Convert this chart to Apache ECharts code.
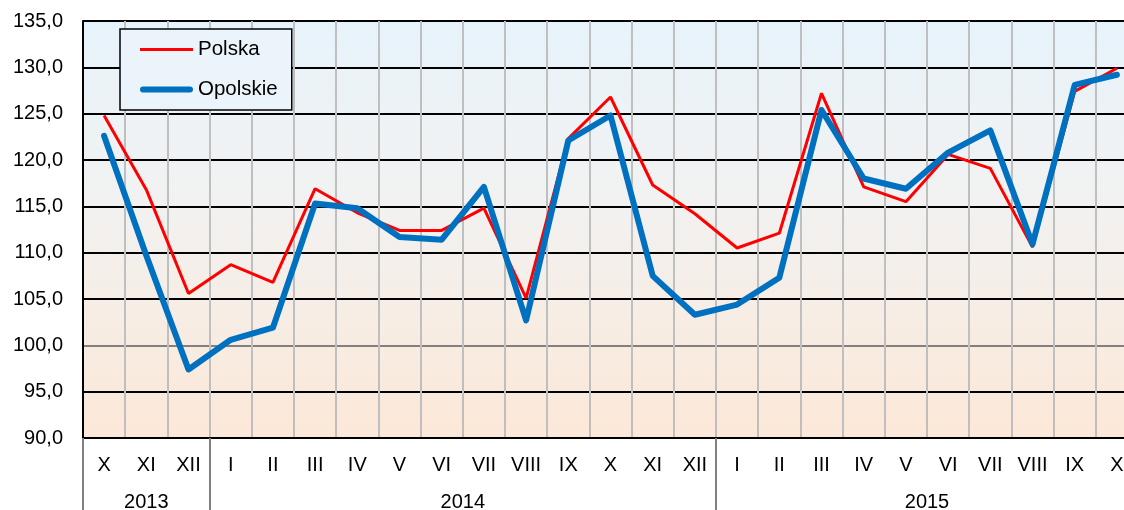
<!DOCTYPE html>
<html>
<head>
<meta charset="utf-8">
<script src="https://cdn.jsdelivr.net/npm/echarts@6/dist/echarts.min.js"></script>
<style>html,body{margin:0;padding:0;background:#fff}#c{width:1124px;height:510px}</style>
</head>
<body>
<div id="c"></div>
<script>
var months = ['X','XI','XII','I','II','III','IV','V','VI','VII','VIII','IX','X','XI','XII','I','II','III','IV','V','VI','VII','VIII','IX','X'];
var years = ['2013','2014','2015'];
var yearMonthCounts = [3, 12, 10];
var polska = [124.8,116.8,105.6,108.7,106.8,116.9,114.3,112.4,112.4,114.8,105.1,122.3,126.8,117.3,114.2,110.5,112.1,127.2,117.1,115.5,120.6,119.1,110.6,127.4,129.9];
var opolskie = [122.6,109.7,97.4,100.6,101.9,115.3,114.8,111.7,111.4,117.1,102.7,122.1,124.8,107.5,103.3,104.4,107.3,125.4,118.0,116.9,120.8,123.2,110.9,128.1,129.2];

var yearStarts = [], yearCenters = [], acc = 0;
yearMonthCounts.forEach(function (n) { yearStarts.push(acc); yearCenters.push(acc + n / 2); acc += n; });

var F = 'Liberation Sans, Arial, sans-serif';
var chart = echarts.init(document.getElementById('c'), null, {renderer: 'canvas'});
chart.setOption({
  animation: false,
  grid: {
    left: 83, top: 21, width: 1055, height: 417,
    containLabel: false, outerBoundsMode: 'none',
    show: true, borderWidth: 0,
    backgroundColor: {type: 'linear', x: 0, y: 0, x2: 0, y2: 1,
      colorStops: [{offset: 0, color: '#E7F3FB'}, {offset: 0.4, color: '#F1F2F2'}, {offset: 1, color: '#FCE8D8'}]}
  },
  legend: {
    show: true, left: 120, top: 29, orient: 'vertical',
    padding: [10, 14, 10, 20], itemGap: 19, itemWidth: 53, itemHeight: 20,
    backgroundColor: '#EAF4FA', borderColor: '#000', borderWidth: 1.5,
    textStyle: {fontFamily: F, fontSize: 20.5, color: '#000'},
    data: [
      {name: 'Polska', icon: 'path://M0,0H53V3H0Z', itemStyle: {color: '#FF0000', borderWidth: 0}},
      {name: 'Opolskie', icon: 'path://M3,0H50A3,3 0 0 1 50,6H3A3,3 0 0 1 3,0Z', itemStyle: {color: '#0070C0', borderWidth: 0}}
    ]
  },
  xAxis: [{
    type: 'category', data: months, boundaryGap: true,
    axisLine: {show: true, lineStyle: {color: '#000', width: 2}},
    axisTick: {show: false},
    axisLabel: {interval: 0, margin: 17, fontFamily: F, fontSize: 20, color: '#000'},
    splitLine: {show: true, interval: 0, lineStyle: {color: '#BFBFBF', width: 2}}
  }, {
    type: 'value', min: 0, max: months.length, position: 'bottom',
    axisLine: {show: false},
    splitLine: {show: false},
    axisTick: {show: true, customValues: yearStarts, length: 75, lineStyle: {color: '#808080', width: 2}},
    axisLabel: {show: true, customValues: yearCenters, margin: 54, fontFamily: F, fontSize: 20, color: '#000',
      formatter: function (v) { var i = yearCenters.indexOf(v); return i >= 0 ? years[i] : ''; }}
  }],
  yAxis: {
    type: 'value', min: 90, max: 135, interval: 5,
    axisLine: {show: true, lineStyle: {color: '#000', width: 2}},
    axisTick: {show: false},
    axisLabel: {margin: 20, fontFamily: F, fontSize: 20, color: '#000',
      formatter: function (v) { return v.toFixed(1).replace('.', ','); }},
    splitLine: {show: true, lineStyle: {width: 2,
      color: ['#000', '#000', '#808080', '#000', '#000', '#000', '#000', '#000', '#000', '#000']}}
  },
  series: [
    {name: 'Polska', type: 'line', data: polska, symbol: 'none', xAxisIndex: 0,
      lineStyle: {color: '#FF0000', width: 3}, itemStyle: {color: '#FF0000'}},
    {name: 'Opolskie', type: 'line', data: opolskie, symbol: 'none', xAxisIndex: 0,
      lineStyle: {color: '#0070C0', width: 6, cap: 'round', join: 'round'}, itemStyle: {color: '#0070C0'}}
  ]
});
</script>
</body>
</html>
